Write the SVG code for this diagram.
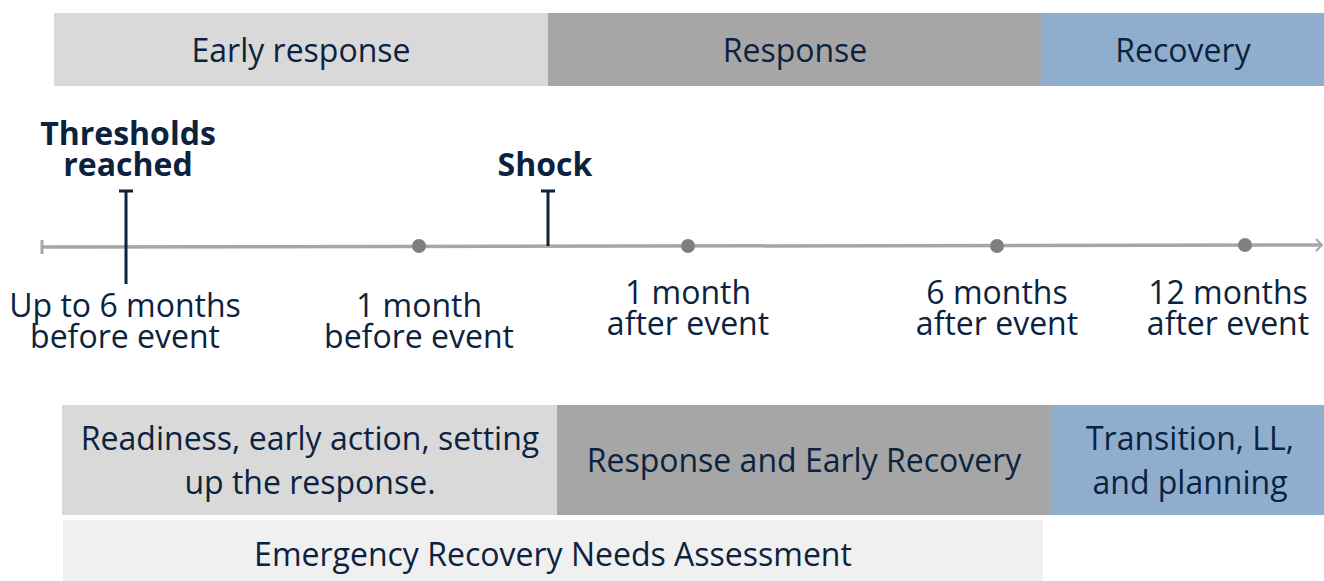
<svg xmlns="http://www.w3.org/2000/svg" width="1324" height="581" viewBox="0 0 1324 581">
<style>
text{font-family:"Open Sans","Noto Sans","Liberation Sans",sans-serif;fill:#0c2340;font-size:32px;text-anchor:middle}
.b{font-weight:bold}
.l1{fill:#d9d9d9}.l2{fill:#a6a6a6}.l3{fill:#8faece}.l4{fill:#f0f0f0}
.mk{stroke:#0c2340;stroke-width:3;fill:none}
.dot{fill:#7f7f7f}
</style>
<rect width="1324" height="581" fill="#fff"/>
<g id="phase-early"><rect class="l1" x="54" y="13" width="494" height="73"/><text x="301" y="62">Early response</text></g>
<g id="phase-response"><rect class="l2" x="548" y="13" width="494" height="73"/><text x="795" y="62">Response</text></g>
<g id="phase-recovery"><rect class="l3" x="1042" y="13" width="282" height="73"/><text x="1183" y="62">Recovery</text></g>
<g id="connectors">
<line x1="42" y1="247" x2="1322" y2="245" stroke="#a6a6a6" stroke-width="3.5"/>
<line x1="42" y1="240" x2="42" y2="254" stroke="#a6a6a6" stroke-width="3"/>
<polyline points="1316,239 1322,245 1316,251" fill="none" stroke="#a6a6a6" stroke-width="2"/>
<path class="mk" d="M126 190V284M119 191H133"/>
<path class="mk" d="M548 190V246M541 191H555"/>
</g>
<g id="thresholds"><text class="b" x="128" y="145">Thresholds</text><text class="b" x="128" y="176">reached</text></g>
<g id="shock"><text class="b" x="545" y="176">Shock</text></g>
<g id="t1"><text x="125" y="317">Up to 6 months</text><text x="125" y="348">before event</text></g>
<g id="t2"><circle class="dot" cx="419" cy="246" r="7"/><text x="419" y="317">1 month</text><text x="419" y="348">before event</text></g>
<g id="t3"><circle class="dot" cx="688" cy="246" r="7"/><text x="688" y="304">1 month</text><text x="688" y="335">after event</text></g>
<g id="t4"><circle class="dot" cx="997" cy="246" r="7"/><text x="997" y="304">6 months</text><text x="997" y="335">after event</text></g>
<g id="t5"><circle class="dot" cx="1245" cy="245" r="7"/><text x="1228" y="304">12 months</text><text x="1228" y="335">after event</text></g>
<g id="readiness"><rect class="l1" x="62" y="405" width="495" height="110"/><text x="310" y="450">Readiness, early action, setting</text><text x="310" y="494">up the response.</text></g>
<g id="response-early"><rect class="l2" x="557" y="405" width="494" height="110"/><text x="804" y="472">Response and Early Recovery</text></g>
<g id="transition"><rect class="l3" x="1051" y="405" width="273" height="110"/><text x="1190" y="450">Transition, LL,</text><text x="1190" y="494">and planning</text></g>
<g id="erna"><rect class="l4" x="63" y="520" width="980" height="61"/><text x="553" y="566">Emergency Recovery Needs Assessment</text></g>
</svg>
